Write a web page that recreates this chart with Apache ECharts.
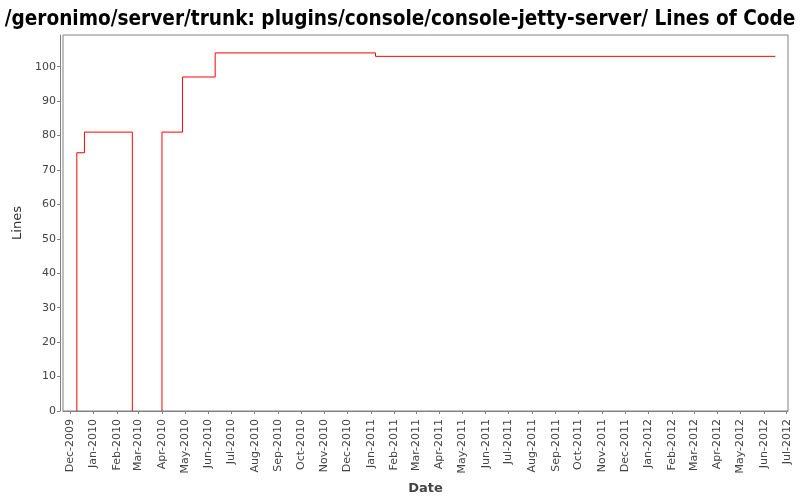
<!DOCTYPE html>
<html>
<head>
<meta charset="utf-8">
<script src="https://cdn.jsdelivr.net/npm/echarts@6/dist/echarts.min.js"></script>
<style>html,body{margin:0;padding:0;background:#fff}#c{width:800px;height:500px}</style>
</head>
<body>
<div id="c"></div>
<script>
// Dates at which the line count changes, and the values (step line, held until next date).
// null = no line drawn while the count sits at 0 (hidden on the axis in the original)
const changeDates = ['2009-12-10', '2009-12-10', '2009-12-20', '2010-02-21', null, '2010-04-01', '2010-04-01', '2010-04-28', '2010-06-10', '2011-01-07', '2012-06-16'];
const lineCounts = [0, 75, 81, 0, null, 0, 81, 97, 104, 103, 103];
// Month tick positions (labelled MMM-yyyy)
const monthTicks = ['2009-12-01','2010-01-01','2010-02-01','2010-03-01','2010-04-01','2010-05-01','2010-06-01','2010-07-01','2010-08-01','2010-09-01','2010-10-01','2010-11-01','2010-12-01','2011-01-01','2011-02-01','2011-03-01','2011-04-01','2011-05-01','2011-06-01','2011-07-01','2011-08-01','2011-09-01','2011-10-01','2011-11-01','2011-12-01','2012-01-01','2012-02-01','2012-03-01','2012-04-01','2012-05-01','2012-06-01','2012-07-01'];
const yTicks = [0,10,20,30,40,50,60,70,80,90,100];
const monthNames = ['Jan','Feb','Mar','Apr','May','Jun','Jul','Aug','Sep','Oct','Nov','Dec'];

function ts(s) { const p = s.split('-').map(Number); return new Date(p[0], p[1]-1, p[2]).getTime(); }
const DAY = 86400000;
const xMin = ts('2009-11-22') - 0.2 * DAY;
const xMax = ts('2012-07-02') + 0.7 * DAY;
const yMax = 109.2;

const seriesData = changeDates.map((d, i) => d === null ? [null, null] : [ts(d), lineCounts[i]]);
const tickValues = monthTicks.map(ts);

const AX = '#808080';
const LBL = '#444444';
const FONT = 'DejaVu Sans';

const chart = echarts.init(document.getElementById('c'), null, {renderer: 'canvas'});
chart.setOption({
  animation: false,
  backgroundColor: '#ffffff',
  title: {
    text: '/geronimo/server/trunk: plugins/console/console-jetty-server/ Lines of Code',
    left: 'center', top: 4,
    textStyle: {fontFamily: 'DejaVu Sans Condensed', fontWeight: 'bold', fontSize: 20.6, color: '#000'}
  },
  grid: {left: 63, right: 12, top: 35, bottom: 89, show: true, borderColor: AX, borderWidth: 1, containLabel: false},
  xAxis: [{
    type: 'value', position: 'bottom', offset: 4,
    min: xMin, max: xMax,
    name: 'Date', nameLocation: 'middle', nameGap: 67,
    nameTextStyle: {fontFamily: FONT, fontWeight: 'bold', fontSize: 13, color: LBL},
    axisLine: {show: true, lineStyle: {color: AX, width: 1}},
    axisTick: {show: true, length: 3, lineStyle: {color: AX}, customValues: tickValues},
    axisLabel: {
      rotate: 90, margin: 4, fontFamily: FONT, fontSize: 11, color: LBL,
      customValues: tickValues,
      formatter: function (v) { const d = new Date(v); return monthNames[d.getMonth()] + '-' + d.getFullYear(); }
    },
    splitLine: {show: false}
  }],
  yAxis: {
    type: 'value', position: 'left', offset: 3,
    min: 0, max: yMax,
    name: 'Lines', nameLocation: 'middle', nameGap: 35,
    nameTextStyle: {fontFamily: FONT, fontSize: 13, color: '#333'},
    axisLine: {show: true, lineStyle: {color: AX, width: 1}},
    axisTick: {show: true, length: 3, lineStyle: {color: AX}, customValues: yTicks},
    axisLabel: {margin: 4, fontFamily: FONT, fontSize: 11, color: LBL, customValues: yTicks},
    splitLine: {show: false}
  },
  series: [{
    type: 'line', step: 'end', connectNulls: false,
    data: seriesData, symbol: 'none', z: 2,
    lineStyle: {color: '#ff0000', width: 1}
  }]
});
</script>
</body>
</html>
